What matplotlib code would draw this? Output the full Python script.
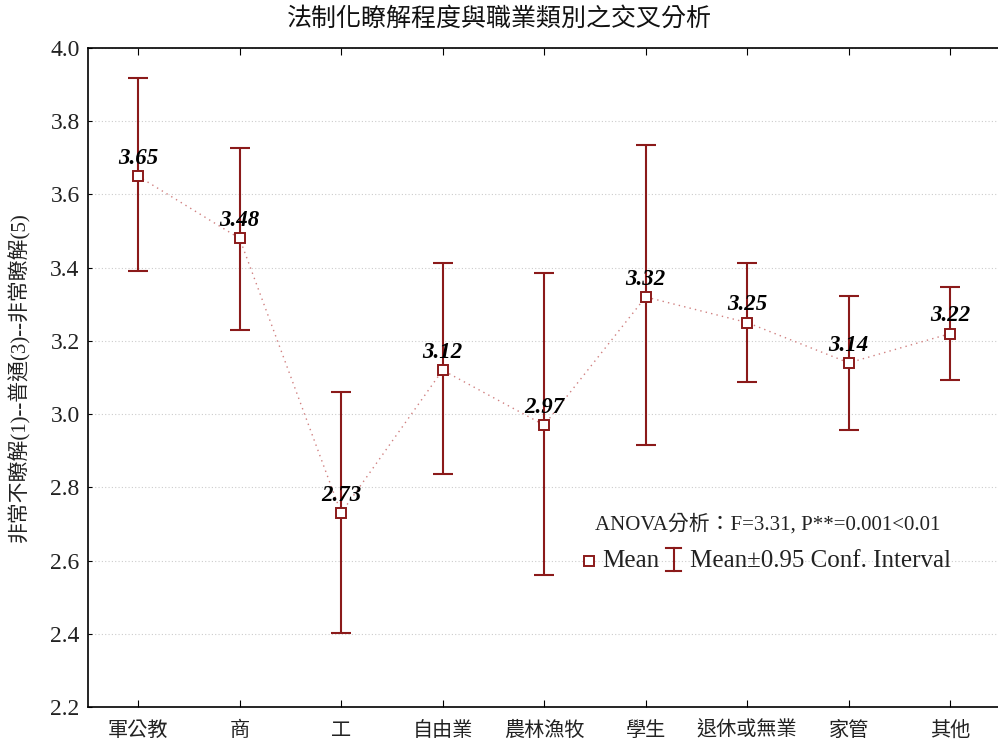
import matplotlib
matplotlib.use("Agg")
import matplotlib.pyplot as plt
from matplotlib.lines import Line2D

plt.rcParams['font.family'] = ['Liberation Serif', 'Noto Sans CJK TC', 'DejaVu Sans']

categories = ['軍公教', '商', '工', '自由業', '農林漁牧', '學生', '退休或無業', '家管', '其他']
means = [3.65, 3.48, 2.73, 3.12, 2.97, 3.32, 3.25, 3.14, 3.22]
ci_upper = [3.917, 3.726, 3.060, 3.412, 3.385, 3.734, 3.412, 3.322, 3.346]
ci_lower = [3.390, 3.229, 2.402, 2.836, 2.560, 2.915, 3.087, 2.956, 3.092]
yticks = [2.2, 2.4, 2.6, 2.8, 3.0, 3.2, 3.4, 3.6, 3.8, 4.0]

dark_red = '#8b1a1a'
text_col = '#222222'
cjk = ['Noto Sans CJK TC', 'DejaVu Sans']
mixed = ['Liberation Serif', 'Noto Sans CJK TC', 'DejaVu Sans']

fig = plt.figure(figsize=(9.98, 7.44), dpi=100)
ax = fig.add_axes([88 / 998, 37 / 744, 912 / 998, 659 / 744])

x = list(range(len(categories)))
err_lo = [m - lo for m, lo in zip(means, ci_lower)]
err_hi = [hi - m for m, hi in zip(means, ci_upper)]

# dotted line linking the means
ax.plot(x, means, linestyle=(0, (1, 3)), color='#d08080', linewidth=1.0, zorder=2)

# confidence intervals and mean markers
ax.errorbar(x, means, yerr=[err_lo, err_hi], fmt='none', ecolor=dark_red,
            elinewidth=1.5, capsize=7.2, capthick=1.5, zorder=3)
ax.plot(x, means, linestyle='none', marker='s', markersize=7,
        markerfacecolor='white', markeredgecolor=dark_red, markeredgewidth=1.4, zorder=4)

for xi, m in zip(x, means):
    ax.text(xi, m + 0.02, f'{m:.2f}', ha='center', va='bottom', fontsize=16.5,
            fontstyle='italic', fontweight='bold', family='Liberation Serif', zorder=5)

ax.set_xlim(-0.493, 8.49)
ax.set_ylim(2.2, 4.0)
ax.set_yticks(yticks)
ax.set_yticklabels([f'{t:.1f}' for t in yticks], fontsize=17, color=text_col)
ax.set_xticks(x)
ax.set_xticklabels(categories, fontsize=14.5, family=cjk, color=text_col)
ax.tick_params(axis='x', direction='in', length=5, top=True, pad=9)
ax.tick_params(axis='y', direction='in', length=3, pad=6)

ax.grid(axis='y', linestyle=(0, (1, 2)), color='#cccccc', linewidth=0.8)
ax.set_axisbelow(True)
for s in ['left', 'bottom', 'top']:
    ax.spines[s].set_linewidth(1.2)
ax.spines['right'].set_visible(False)

ax.set_ylabel('非常不瞭解(1)--普通(3)--非常瞭解(5)', fontsize=15, family=mixed, color=text_col)
ax.yaxis.set_label_coords(-0.0636, 0.5)
fig.text(0.5, 1 - 19 / 744, '法制化瞭解程度與職業類別之交叉分析', ha='center', va='center',
         fontsize=18, family=cjk, color='#111111')

# annotation and legend
ax.text(0.745, 0.278, 'ANOVA分析：F=3.31, P**=0.001<0.01', transform=ax.transAxes,
        ha='center', va='center', fontsize=15, color=text_col, family=mixed)
ax.add_line(Line2D([0.549], [0.2215], transform=ax.transAxes, marker='s', markersize=7,
                   markerfacecolor='white', markeredgecolor=dark_red,
                   markeredgewidth=1.4, linestyle='none', clip_on=False))
ax.text(0.564, 0.2215, 'Mean', transform=ax.transAxes, ha='left', va='center',
        fontsize=18, color=text_col)
bx, btop, bbot, bw = 0.642, 0.241, 0.206, 0.0077
ax.add_line(Line2D([bx, bx], [bbot, btop], transform=ax.transAxes, color=dark_red, lw=1.5))
ax.add_line(Line2D([bx - bw, bx + bw], [btop, btop], transform=ax.transAxes, color=dark_red, lw=1.5))
ax.add_line(Line2D([bx - bw, bx + bw], [bbot, bbot], transform=ax.transAxes, color=dark_red, lw=1.5))
ax.text(0.6605, 0.2215, 'Mean±0.95 Conf. Interval', transform=ax.transAxes, ha='left',
        va='center', fontsize=18, color=text_col)

fig.savefig('out.png', dpi=100)
